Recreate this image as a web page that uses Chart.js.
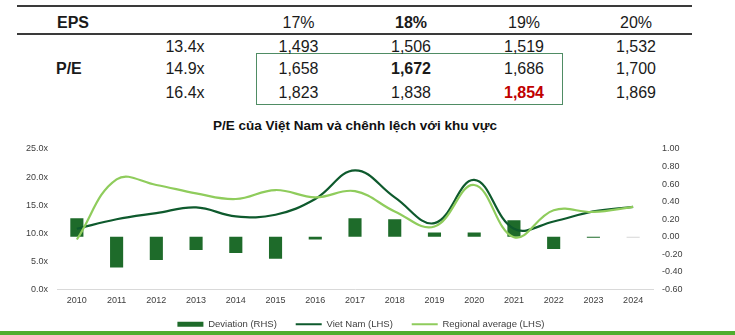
<!DOCTYPE html>
<html>
<head>
<meta charset="utf-8">
<script src="https://cdn.jsdelivr.net/npm/chart.js@4.4.1/dist/chart.umd.min.js"></script>
<style>
  html, body { margin:0; padding:0; width:735px; height:335px; overflow:hidden; background:#fff; }
  body { position:relative; font-family:"Liberation Sans", Arial, sans-serif; color:#1a1a1a; }
  .t { position:absolute; font-size:16px; line-height:18px; white-space:nowrap; transform:translate(-50%,-50%); }
  .l { position:absolute; font-size:16px; line-height:18px; white-space:nowrap; transform:translateY(-50%); font-weight:bold; }
  .rule { position:absolute; left:17px; width:675px; height:2px; background:#3a3a3a; }
  #box { position:absolute; left:256px; top:53px; width:305px; height:50px; border:1.5px solid #4f8c64; }
  #title { position:absolute; left:355px; top:125px; transform:translate(-50%,-50%); font-weight:bold; font-size:13.5px; white-space:nowrap; color:#111; }
  #chart { position:absolute; left:0; top:110px; }
  #strip { position:absolute; left:0; top:331px; width:735px; height:4px; background:#4fae2f; }
</style>
</head>
<body>
<div id="table"></div>
<div id="title">P/E của Việt Nam và chênh lệch với khu vực</div>
<canvas id="chart" width="735" height="229"></canvas>
<div id="strip"></div>
<script>
// ---------- Sensitivity table data ----------
const epsGrowth = ['17%', '18%', '19%', '20%'];
const peMultiples = ['13.4x', '14.9x', '16.4x'];
const priceRow1 = [1493, 1506, 1519, 1532];
const priceRow2 = [1658, 1672, 1686, 1700];
const priceRow3 = [1823, 1838, 1854, 1869];

// ---------- Chart data ----------
const years = ['2010','2011','2012','2013','2014','2015','2016','2017','2018','2019','2020','2021','2022','2023','2024'];
const deviation = [0.21, -0.35, -0.265, -0.15, -0.185, -0.25, -0.03, 0.21, 0.20, 0.05, 0.05, 0.19, -0.14, -0.01, -0.01];
const vietNam = [10.8, 12.5, 13.6, 14.6, 13.0, 13.3, 16.1, 21.2, 16.4, 11.8, 19.5, 10.8, 12.1, 13.9, 14.7];
const regional = [8.9, 19.6, 18.6, 17.1, 16.1, 17.7, 16.4, 17.5, 13.9, 11.2, 18.6, 9.3, 14.1, 13.8, 14.7];
const lhsTicks = [0, 5, 10, 15, 20, 25];
const rhsTicks = [-0.6, -0.4, -0.2, 0, 0.2, 0.4, 0.6, 0.8, 1.0];

// ---------- Build table ----------
(function buildTable(){
  const root = document.getElementById('table');
  const colX = [298.5, 411, 524, 636];
  const rowY = [46.7, 69.3, 93.3];
  const rows = [priceRow1, priceRow2, priceRow3];
  let html = '<div class="rule" style="top:5px"></div><div class="rule" style="top:33px"></div><div id="box"></div>';
  html += '<div class="l" style="left:57px;top:22.7px">EPS</div>';
  html += '<div class="l" style="left:56px;top:69.3px">P/E</div>';
  epsGrowth.forEach((g, i) => {
    const bold = i === 1 ? 'font-weight:bold;' : '';
    html += `<div class="t" style="left:${colX[i]}px;top:22.7px;${bold}">${g}</div>`;
  });
  peMultiples.forEach((m, r) => {
    html += `<div class="t" style="left:185px;top:${rowY[r]}px">${m}</div>`;
    rows[r].forEach((v, c) => {
      let st = '';
      if (r === 1 && c === 1) st = 'font-weight:bold;';
      if (r === 2 && c === 2) st = 'font-weight:bold;color:#c00000;';
      html += `<div class="t" style="left:${colX[c]}px;top:${rowY[r]}px;${st}">${v.toLocaleString('en-US')}</div>`;
    });
  });
  root.innerHTML = html;
})();

// ---------- Chart ----------
const FONT = '"Liberation Sans", Arial, sans-serif';
const tickColor = '#404040';
new Chart(document.getElementById('chart'), {
  type: 'bar',
  data: {
    labels: years,
    datasets: [
      {
        type: 'bar',
        label: 'Deviation (RHS)',
        data: deviation,
        yAxisID: 'y1',
        backgroundColor: (ctx) => ctx.dataIndex === 14 ? '#d6d6d6' : '#1e6b2a',
        borderWidth: 0,
        categoryPercentage: 1,
        barPercentage: 0.33,
        order: 3
      },
      {
        type: 'line',
        label: 'Viet Nam (LHS)',
        data: vietNam,
        yAxisID: 'y',
        borderColor: '#0e5a2d',
        backgroundColor: '#0e5a2d',
        borderWidth: 2.2,
        pointRadius: 0,
        tension: 0.4,
        fill: false,
        order: 2
      },
      {
        type: 'line',
        label: 'Regional average (LHS)',
        data: regional,
        yAxisID: 'y',
        borderColor: '#8fcc5c',
        backgroundColor: '#8fcc5c',
        borderWidth: 2.2,
        pointRadius: 0,
        tension: 0.4,
        fill: false,
        order: 1
      }
    ]
  },
  options: {
    responsive: false,
    animation: false,
    devicePixelRatio: 1,
    layout: { padding: { top: 39, left: 0, right: 0, bottom: 0 } },
    plugins: {
      title: { display: false },
      tooltip: { enabled: false },
      legend: {
        position: 'bottom',
        labels: {
          font: { family: FONT, size: 9.5 },
          color: '#404040',
          padding: 11,
          usePointStyle: true,
          pointStyleWidth: 26,
          boxHeight: 5,
          sort: (a, b) => a.datasetIndex - b.datasetIndex,
          generateLabels: (chart) => {
            const items = Chart.defaults.plugins.legend.labels.generateLabels(chart);
            items.forEach(it => {
              if (it.datasetIndex < 2) it.text = it.text + '\u00a0\u00a0\u00a0';
              else it.text = it.text + '\u00a0\u00a0\u00a0\u00a0\u00a0';
              if (it.datasetIndex === 0) {
                it.pointStyle = 'rect';
                it.fillStyle = '#1e6b2a';
                it.strokeStyle = '#1e6b2a';
                it.lineWidth = 0;
              } else {
                it.pointStyle = 'line';
                it.lineWidth = 2;
              }
            });
            return items;
          }
        }
      }
    },
    scales: {
      x: {
        offset: true,
        grid: { display: false, drawTicks: false },
        border: { display: true, color: '#d9d9d9', width: 1 },
        ticks: { font: { family: FONT, size: 9 }, color: tickColor, padding: 6, maxRotation: 0, autoSkip: false },
        afterFit: (s) => { s.height = 19; }
      },
      y: {
        position: 'left',
        min: 0, max: 25,
        grid: { display: false, drawTicks: false },
        border: { display: false },
        afterBuildTicks: (s) => { s.ticks = lhsTicks.map(v => ({ value: v })); },
        ticks: { font: { family: FONT, size: 9 }, color: tickColor, padding: 9, callback: (v) => Number(v).toFixed(1) + 'x' },
        afterFit: (s) => { s.width = 57; }
      },
      y1: {
        position: 'right',
        min: -0.6, max: 1.0,
        grid: { display: false, drawTicks: false },
        border: { display: false },
        afterBuildTicks: (s) => { s.ticks = rhsTicks.map(v => ({ value: v })); },
        ticks: { font: { family: FONT, size: 9 }, color: tickColor, padding: 9, callback: (v) => Number(v).toFixed(2) },
        afterFit: (s) => { s.width = 82; }
      }
    }
  }
});
</script>
</body>
</html>
